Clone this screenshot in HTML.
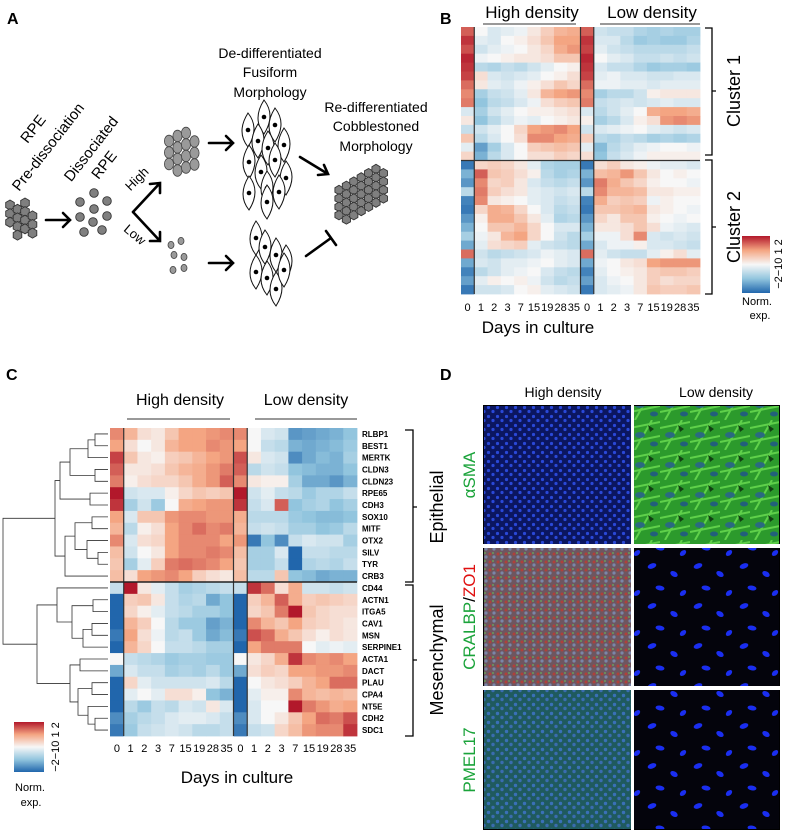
<!DOCTYPE html>
<html><head><meta charset="utf-8">
<style>
html,body{margin:0;padding:0;background:#fff;}
svg{display:block;font-family:"Liberation Sans",Arial,sans-serif;}
</style></head>
<body>
<svg id="fig" width="793" height="834" viewBox="0 0 793 834" xmlns="http://www.w3.org/2000/svg">
<defs>
<linearGradient id="cbar" x1="0" y1="1" x2="0" y2="0">
<stop offset="0" stop-color="#2166ac"/><stop offset="0.25" stop-color="#92c5de"/><stop offset="0.5" stop-color="#f7f7f7"/><stop offset="0.75" stop-color="#f4a582"/><stop offset="1" stop-color="#b2182b"/>
</linearGradient>
<pattern id="nucDense" width="9" height="9" patternUnits="userSpaceOnUse">
<rect width="9" height="9" fill="#0b1660"/><circle cx="2.5" cy="2.5" r="1.6" fill="#2a48d8"/><circle cx="7" cy="6.5" r="1.6" fill="#2a48d8"/>
</pattern>
<pattern id="nucTeal" width="9" height="9" patternUnits="userSpaceOnUse">
<rect width="9" height="9" fill="#1f5a5e"/><circle cx="2.5" cy="2.5" r="1.7" fill="#3a70b8"/><circle cx="7" cy="6.5" r="1.7" fill="#3a6cb0"/>
</pattern>
<pattern id="cral" width="8" height="8" patternUnits="userSpaceOnUse">
<rect width="8" height="8" fill="#6e5660"/><circle cx="2" cy="2" r="1.5" fill="#b0403a"/><circle cx="6" cy="5" r="1.6" fill="#7a86a8"/><circle cx="5" cy="1" r="1" fill="#6a9a5a"/>
</pattern>
<pattern id="sparse" width="46" height="40" patternUnits="userSpaceOnUse">
<rect width="46" height="40" fill="#04040c"/>
<ellipse cx="8" cy="6" rx="4.5" ry="2.5" fill="#1a2ef0" transform="rotate(-20 8 6)"/>
<ellipse cx="30" cy="14" rx="4" ry="2.6" fill="#1a2ef0" transform="rotate(30 30 14)"/>
<ellipse cx="16" cy="28" rx="4.5" ry="2.4" fill="#1a2ef0" transform="rotate(10 16 28)"/>
<ellipse cx="39" cy="33" rx="3.6" ry="2.4" fill="#1a2ef0" transform="rotate(-40 39 33)"/>
</pattern>
<pattern id="sma" width="30" height="30" patternUnits="userSpaceOnUse">
<rect width="30" height="30" fill="#2c9a2c"/>
<path d="M0 8 L30 2 M0 22 L30 16 M5 30 L22 0" stroke="#5fd04a" stroke-width="2"/>
<ellipse cx="10" cy="15" rx="5" ry="3" fill="#2a6a80"/><ellipse cx="24" cy="24" rx="4" ry="2.5" fill="#22607a"/>
<path d="M18 5 l6 4 l-4 3z" fill="#124012"/>
</pattern>
</defs>

<!-- ===== Panel A ===== -->
<g id="panelA">
<text x="7" y="24" font-size="16" font-weight="bold">A</text>
<g id="hexA"></g>
<text transform="translate(37,132) rotate(-52)" font-size="15" text-anchor="middle">RPE</text>
<text transform="translate(52,150) rotate(-52)" font-size="15" text-anchor="middle">Pre-dissociation</text>
<text transform="translate(95,152) rotate(-52)" font-size="15" text-anchor="middle">Dissociated</text>
<text transform="translate(108,168) rotate(-52)" font-size="15" text-anchor="middle">RPE</text>
<g stroke="#000" stroke-width="2.6" fill="none" stroke-linecap="round">
<path d="M46 220 L70 220 M63 213 L70 220 L63 227"/>
<path d="M133 212 L160 183 M150 184 L160 183 L160 193"/>
<path d="M133 212 L160 241 M150 241 L160 241 L160 232"/>
<path d="M209 143 L233 143 M226 136 L233 143 L226 150"/>
<path d="M209 263 L233 263 M226 256 L233 263 L226 270"/>
<path d="M300 157 L328 174 M318 175 L328 174 L324 165"/>
<path d="M306 256 L331 238 M326 231 L336 245"/>
</g>
<text transform="translate(140,182) rotate(-45)" font-size="13" text-anchor="middle">High</text>
<text transform="translate(132,238) rotate(40)" font-size="13" text-anchor="middle">Low</text>
<g id="dissA"></g>
<g id="highOval"></g>
<g id="lowOval"></g>
<g id="fusiform"></g>
<g font-size="14" text-anchor="middle">
<text x="270" y="58">De-differentiated</text>
<text x="270" y="77">Fusiform</text>
<text x="270" y="97">Morphology</text>
<text x="376" y="112">Re-differentiated</text>
<text x="376" y="131">Cobblestoned</text>
<text x="376" y="151">Morphology</text>
</g>
<g id="hexB"></g>
</g>

<!-- ===== Panel B ===== -->
<g id="panelB">
<text x="440" y="24" font-size="16" font-weight="bold">B</text>
<text x="532" y="18" font-size="17" text-anchor="middle">High density</text>
<line x1="483" y1="24" x2="576" y2="24" stroke="#333"/>
<text x="652" y="18" font-size="17" text-anchor="middle">Low density</text>
<line x1="600" y1="24" x2="700" y2="24" stroke="#333"/>
<g id="bCells"></g>
<g id="bTicks" font-size="11" text-anchor="middle"></g>
<text x="538" y="333" font-size="17" text-anchor="middle">Days in culture</text>
<path d="M705 28 L712 28 L712 155 L705 155 M712 91 L716 91" stroke="#000" fill="none" stroke-width="1.3"/>
<path d="M705 160 L712 160 L712 294 L705 294 M712 227 L716 227" stroke="#000" fill="none" stroke-width="1.3"/>
<text transform="translate(740,91) rotate(-90)" font-size="18" text-anchor="middle">Cluster 1</text>
<text transform="translate(740,227) rotate(-90)" font-size="18" text-anchor="middle">Cluster 2</text>
<rect x="742" y="236" width="28" height="57" fill="url(#cbar)"/>
<text transform="translate(782,264) rotate(-90)" font-size="11" text-anchor="middle">−2−10 1 2</text>
<text x="757" y="305" font-size="11" text-anchor="middle">Norm.</text>
<text x="760" y="319" font-size="11" text-anchor="middle">exp.</text>
</g>

<!-- ===== Panel C ===== -->
<g id="panelC">
<text x="6" y="380" font-size="16" font-weight="bold">C</text>
<text x="180" y="405" font-size="16" text-anchor="middle">High density</text>
<line x1="127" y1="419" x2="230" y2="419" stroke="#333"/>
<text x="306" y="405" font-size="16" text-anchor="middle">Low density</text>
<line x1="255" y1="419" x2="357" y2="419" stroke="#333"/>
<g id="cCells"></g>
<g id="cGenes" font-size="8" font-weight="bold"></g>
<g id="cTicks" font-size="11" text-anchor="middle"></g>
<g id="dendro" stroke="#333" fill="none" stroke-width="0.8"></g>
<text x="237" y="783" font-size="17" text-anchor="middle">Days in culture</text>
<path d="M405 430 L413 430 L413 582 L405 582 M413 507 L417 507" stroke="#000" fill="none" stroke-width="1.3"/>
<path d="M405 585 L413 585 L413 736 L405 736 M413 660 L417 660" stroke="#000" fill="none" stroke-width="1.3"/>
<text transform="translate(443,507) rotate(-90)" font-size="18" text-anchor="middle">Epithelial</text>
<text transform="translate(443,660) rotate(-90)" font-size="18" text-anchor="middle">Mesenchymal</text>
<rect x="14" y="722" width="30" height="50" fill="url(#cbar)"/>
<text transform="translate(59,747) rotate(-90)" font-size="11" text-anchor="middle">−2−10 1 2</text>
<text x="30" y="791" font-size="11" text-anchor="middle">Norm.</text>
<text x="31" y="806" font-size="11" text-anchor="middle">exp.</text>
</g>

<!-- ===== Panel D ===== -->
<g id="panelD">
<text x="440" y="380" font-size="16" font-weight="bold">D</text>
<text x="563" y="397" font-size="14" text-anchor="middle">High density</text>
<text x="716" y="397" font-size="14" text-anchor="middle">Low density</text>
<rect x="483" y="405" width="297" height="425" fill="#000"/>
<rect x="484" y="406" width="147" height="138" fill="url(#nucDense)"/>
<rect x="634" y="406" width="145" height="138" fill="url(#sma)"/>
<rect x="484" y="548" width="147" height="138" fill="url(#cral)"/>
<rect x="634" y="548" width="145" height="138" fill="url(#sparse)"/>
<rect x="484" y="690" width="147" height="139" fill="url(#nucTeal)"/>
<rect x="634" y="690" width="145" height="139" fill="url(#sparse)"/>
<rect x="631" y="405" width="3" height="425" fill="#fff"/>
<rect x="483" y="544" width="297" height="4" fill="#fff"/>
<rect x="483" y="686" width="297" height="4" fill="#fff"/>
<text transform="translate(475,475) rotate(-90)" font-size="17" fill="#1aa33a" text-anchor="middle">αSMA</text>
<text transform="translate(475,617) rotate(-90)" font-size="17" text-anchor="middle"><tspan fill="#1aa33a">CRALBP</tspan><tspan fill="#000">/</tspan><tspan fill="#e01010">ZO1</tspan></text>
<text transform="translate(475,760) rotate(-90)" font-size="17" fill="#1aa33a" text-anchor="middle">PMEL17</text>
</g>
</svg>

<script>
// ===== Panel C data =====
const cGenes = ["RLBP1","BEST1","MERTK","CLDN3","CLDN23","RPE65","CDH3","SOX10","MITF","OTX2","SILV","TYR","CRB3","CD44","ACTN1","ITGA5","CAV1","MSN","SERPINE1","ACTA1","DACT","PLAU","CPA4","NT5E","CDH2","SDC1"];
const cDays = ["0","1","2","3","7","15","19","28","35"];
const cHigh = [
[1.2,0.8,0.3,0.2,0.6,1,1,1.1,1.2],
[1,0.3,0,0.2,0.8,1,1,1.2,1.1],
[1.7,0.6,0.2,0.1,0.5,0.6,0.8,1,1.1],
[1.5,0.2,0.2,0.3,0.6,0.8,0.9,1.1,1.3],
[1.3,0.1,0.3,0.4,0.4,0.6,0.9,1.1,1.5],
[2,-0.4,-0.3,-0.3,0.1,0.4,0.6,0.5,0.6],
[1.8,-0.8,-0.4,-0.9,0,0.9,1,1.1,1.1],
[1,-0.3,0.6,0.6,1.1,1.2,1.2,1.1,1.1],
[0.8,-0.6,0.1,0.3,1,1.2,1.4,1.2,1.3],
[1.2,-0.3,0.3,0.4,1,1.2,1.2,1.2,1],
[0.7,-0.4,0,0.2,1,1.2,1.2,1.3,1.2],
[0.6,-0.8,-0.2,0.5,1.3,1.4,1.3,1.2,1],
[0.7,0.3,1,1.1,1.2,1,0.5,0.3,0.2],
[-0.5,2,0.2,-0.2,-0.5,-0.8,-0.7,-0.6,-0.5],
[-2,0.5,0.6,0.2,-0.5,-0.7,-0.6,-1.3,-1],
[-2,0.4,0.1,-0.2,-0.5,-0.6,-0.8,-0.8,-1],
[-2,0.8,0.5,0,-0.6,-0.9,-0.9,-1.4,-1.2],
[-1.8,1,0.3,-0.1,-0.6,-0.5,-0.9,-1.3,-1.1],
[-2,0.8,0.4,0,-0.5,-0.5,-0.6,-0.8,-0.8],
[0,-0.5,-0.6,-0.7,-0.9,-0.8,-0.8,-0.9,-0.9],
[-1.3,-0.3,-0.5,-0.5,-0.8,-0.7,-0.8,-0.6,-0.9],
[-2,0.4,-0.2,-0.4,-0.4,-0.4,-0.4,-0.3,-0.6],
[-2,-0.2,0,-0.2,0.3,0.3,0.1,-1,-1.2],
[-2,-0.6,-0.9,-0.5,-0.6,-0.3,-0.4,0.2,-0.3],
[-1.6,-0.8,-0.6,-0.5,-0.3,-0.2,-0.2,-0.3,-0.5],
[-1.8,-0.9,-0.5,-0.4,-0.3,-0.4,-0.6,-0.6,-0.5]];
const cLow = [
[1.2,0,-0.3,-0.4,-1.5,-1.4,-1.3,-1.2,-1],
[1,0,-0.5,-0.6,-1.2,-1.3,-1.2,-1.1,-0.9],
[1.6,0.2,-0.3,-0.4,-1.6,-1.3,-1.1,-1.2,-0.8],
[1.5,-0.6,-0.4,-0.5,-1,-1.1,-1.2,-1.2,-1],
[1.2,0.2,0.1,0.1,-0.8,-1.3,-1.3,-1.5,-1.2],
[2,-0.4,-0.2,-0.5,-0.6,-0.9,-0.7,-0.7,-0.5],
[1.8,-0.5,-0.3,1.5,-1,-0.8,-0.7,-1,-0.8],
[0.9,-0.6,-0.6,-0.6,-0.9,-1,-1.1,-1.1,-1],
[0.8,-0.5,-0.4,-0.5,-0.8,-0.8,-1,-0.9,-0.6],
[1.1,-1.8,-1,-1.6,-0.5,-0.3,-0.4,-0.4,-0.8],
[0.7,-0.8,-0.8,-0.3,-2,-0.5,-0.5,-0.6,-0.6],
[0.6,-0.8,-0.8,-0.5,-2,-0.7,-0.6,-0.7,-0.5],
[0.7,-0.6,-0.6,0.6,-1,-1.1,-1.3,-1.2,-1.2],
[-0.5,1.8,1.4,0.3,0.9,-0.4,-0.4,-0.5,-0.4],
[-2,0.5,0.8,1.5,0.9,0.5,0.6,0.5,0.4],
[-2,0.4,0.6,1.3,2,0.6,0.4,0.3,0.3],
[-2,1.2,0.8,0.6,1,0.5,0.4,0.3,0.2],
[-1.8,1.6,1.4,0.9,0.6,0.3,0.1,0.3,0.2],
[-2,1,1.3,1.3,1.3,0,-0.2,-0.1,-0.2],
[0,0.2,0.4,0.9,1.8,1.2,1.1,1.2,1],
[-1.3,0.3,0.5,0.4,1,1,1.1,1.1,1.2],
[-2,0,0.2,0.3,0.5,0.8,1,1.4,1.4],
[-2,-0.2,0.1,0.1,1.2,0.8,0.7,0.8,0.7],
[-2,-0.3,0,0,2,1.3,1.1,0.9,1],
[-1.6,-0.3,0,0.2,0.6,1,1.4,1.3,1.6],
[-1.8,-0.5,-0.4,0.4,0.7,1.1,1.2,1.2,1.8]];
// dendrogram merges: [childA, childB, height]; leaves 0..25, internal nodes 26+
const cMerges = [
[0,1,95],[3,4,95],[26,2,88],[28,27,70],[5,6,90],[29,30,60],[7,8,92],[10,11,98],[9,33,87],[32,34,75],[35,12,65],[31,36,55],
[16,17,92],[14,15,93],[38,18,83],[39,40,72],[13,41,57],[19,20,80],[21,22,92],[24,25,95],[23,45,88],[44,46,78],[43,47,70],[42,48,37],[37,49,3]];

// ===== Panel B data =====
const bDays = ["0","1","2","3","7","15","19","28","35"];
const bHigh = [
[1.5,0,-0.3,-0.2,-0.1,0.2,0.5,0.8,0.9],
[1.8,-0.2,-0.3,0,0.1,0.3,0.6,1,1],
[1.6,-0.4,-0.2,-0.1,0,0.2,0.4,0.9,1.1],
[1.9,-0.1,0,0.1,0.2,0.2,0.3,0.6,0.6],
[1.8,-0.6,-0.7,-0.5,-0.6,-0.4,-0.2,0,0.1],
[1.7,0.3,-0.3,-0.4,-0.3,-0.2,0,0.1,0.3],
[1.4,0.2,-0.2,-0.3,-0.1,0.1,0.3,0.6,0.4],
[1.2,-0.8,-0.5,-0.4,-0.2,0.2,0.8,1,1.1],
[1.3,-1,-0.6,-0.5,-0.3,-0.1,0.3,0.5,0.6],
[-0.3,-0.8,-0.4,-0.2,0,0.1,0.1,0.2,0.3],
[0.2,-1,-0.6,-0.3,-0.1,-0.2,0,0.1,0.2],
[-0.5,-0.4,-0.2,0,0.4,1,1.1,1.2,1],
[0.6,-0.6,-0.3,0,0.3,1.2,1.2,1,0.9],
[-0.2,-1.4,-0.8,-0.3,0,0.5,0.6,0.7,0.6],
[0.4,-1.2,-0.6,-0.3,0,0.3,0.3,0.5,0.4],
[-1.8,0.4,0.5,0.4,0.2,-0.2,-0.7,-0.8,-0.8],
[-1.2,1.5,0.6,0.5,0.3,0.1,-0.6,-0.8,-0.7],
[-1.5,1.2,0.4,0.5,0.2,-0.3,-0.5,-0.6,-0.5],
[-0.6,1.3,0.5,0.3,0.2,-0.2,-0.3,-0.4,-0.3],
[-1.7,1.2,0.2,0.1,0,-0.2,-0.3,-0.5,-0.4],
[-1.8,0.4,0.9,0.8,0.4,0,-0.3,-0.6,-0.5],
[-1.5,0.1,0.9,0.9,0.6,0.2,-0.2,-0.7,-0.6],
[-1.2,0,0.6,0.6,0.8,0.4,0,-0.3,-0.3],
[-0.8,-0.1,0.2,0.8,1,0.4,0,-0.4,-0.6],
[-1.3,-0.2,0.3,0.4,0.5,-0.2,-0.4,-0.5,-0.6],
[1.4,-0.4,-0.6,-0.5,-0.4,-0.3,-0.1,-0.2,-0.3],
[-1.3,-0.3,-0.4,-0.2,-0.2,-0.1,0,-0.2,-0.3],
[-1.7,-0.6,-0.4,-0.2,-0.1,0,-0.3,-0.5,-0.6],
[-1.4,-0.2,0.1,0,0.1,-0.1,-0.4,-0.6,-0.5],
[-1.8,-0.4,-0.4,-0.3,0,0.1,-0.2,-0.3,-0.4]];
const bLow = [
[1.5,-0.4,-0.5,-0.5,-0.7,-0.8,-0.7,-0.8,-0.8],
[1.8,-0.3,-0.3,-0.6,-0.9,-0.8,-0.9,-0.9,-0.7],
[1.7,-0.2,-0.4,-0.5,-0.6,-0.6,-0.6,-0.6,-0.5],
[1.9,0,-0.2,-0.3,-0.5,-0.5,-0.4,-0.5,-0.4],
[1.8,-0.3,-0.5,-0.5,-0.7,-0.9,-0.8,-0.8,-0.9],
[1.7,-0.2,-0.1,-0.3,-0.3,-0.4,-0.4,-0.3,-0.3],
[1.4,-0.1,-0.1,-0.2,-0.2,-0.3,-0.2,-0.2,-0.2],
[1.2,-0.8,-0.6,-0.6,-0.4,0.1,0.2,0.2,0.2],
[1.3,-0.5,-0.4,-0.3,-0.4,-0.3,-0.2,-0.3,-0.3],
[-0.3,-0.6,-0.4,-0.2,0,0.9,1,1,0.9],
[0.1,-0.8,-0.6,-0.3,0.1,0.3,1.1,1.2,1.1],
[-0.4,-0.3,-0.2,-0.1,0,-0.2,-0.3,-0.4,-0.3],
[0.5,-0.6,-0.7,-0.5,-0.6,-0.8,-0.7,-0.8,-0.7],
[-0.2,-1.1,-0.6,-0.4,-0.2,-0.1,0,0,-0.1],
[0.3,-1,-0.5,-0.3,-0.1,0.1,0.1,0.1,0.1],
[-1.8,0.3,0.5,0.2,0.1,-0.1,-0.2,-0.2,-0.3],
[-1.2,0.7,0.8,1.1,0.6,0.2,0,0.1,0],
[-1.5,1.3,0.9,0.6,0.4,0.1,0,0,-0.1],
[-0.6,1.2,0.8,0.8,0.7,0.2,0.2,0.1,0.1],
[-1.7,0.9,0.5,0.6,0.5,-0.1,0.1,0,0],
[-1.8,0.6,0.6,0.7,0.8,0.2,0.1,0,-0.1],
[-1.5,0.4,0.2,0.6,0.6,0.1,0,-0.1,0],
[-1.2,0.2,0.2,0.3,0.6,0.3,-0.1,-0.2,-0.3],
[-0.8,-0.1,-0.1,0.3,1.2,-0.3,-0.4,-0.3,-0.4],
[-1.3,-0.3,-0.1,-0.1,0.1,-0.3,-0.3,-0.4,-0.5],
[1.4,-0.2,-0.4,-0.5,-0.5,-0.2,0.1,0.3,-0.2],
[-1.3,-0.1,0,0.2,0.3,1,1.1,1.1,1.1],
[-1.7,-0.2,0,0.1,0.2,0.5,0.6,0.6,0.5],
[-1.4,-0.3,-0.1,0,0.2,0.5,0.3,0.4,0.4],
[-1.8,-0.3,-0.2,-0.1,0.2,0.6,0.5,0.5,0.6]];
const bClusterSplit = 15;

const NS = "http://www.w3.org/2000/svg";
function mk(tag, attrs, parent){ const e=document.createElementNS(NS,tag); for(const k in attrs) e.setAttribute(k,attrs[k]); parent.appendChild(e); return e; }
const stops=[[-2,[33,102,172]],[-1,[146,197,222]],[0,[247,247,247]],[1,[244,165,130]],[2,[178,24,43]]];
function color(v){ v=Math.max(-2,Math.min(2,v)); for(let i=0;i<stops.length-1;i++){ const a=stops[i],b=stops[i+1]; if(v<=b[0]){ const t=(v-a[0])/(b[0]-a[0]); const c=a[1].map((x,j)=>Math.round(x+(b[1][j]-x)*t)); return `rgb(${c})`; } } return "rgb(178,24,43)"; }

function heatmap(gid, high, low, x0, x1, y0, y1, days, tickY, prefix){
  const g=document.getElementById(gid);
  const nC=days.length*2, nR=high.length;
  const cw=(x1-x0)/nC, rh=(y1-y0)/nR;
  const xAt=c=>x0+c*cw, yAt=r=>y0+r*rh;
  for(let r=0;r<nR;r++){
    const row=high[r].concat(low[r]);
    row.forEach((v,c)=>{
      const e=mk("rect",{x:xAt(c).toFixed(2),y:yAt(r).toFixed(2),width:(cw+0.4).toFixed(2),height:(rh+0.4).toFixed(2),fill:color(v)},g);
      
      
    });
  }
  const tg=document.getElementById(prefix==="b"?"bTicks":"cTicks");
  days.concat(days).forEach((d,c)=>{
    const t=mk("text",{x:(xAt(c)+cw/2).toFixed(1),y:tickY},tg); t.textContent=d;
    
    
  });
  [1,days.length,days.length+1].forEach(c=>{
    const l=mk("line",{x1:xAt(c),x2:xAt(c),y1:y0,y2:y1,stroke:"#333","stroke-width":1.2},g);
    
    
  });
  return {xAt,yAt,rh,cw};
}
const B=heatmap("bCells",bHigh,bLow,461,700,27,294,bDays,311,"b");
const bl=mk("line",{x1:461,x2:700,y1:B.yAt(bClusterSplit),y2:B.yAt(bClusterSplit),stroke:"#333","stroke-width":1.2},document.getElementById("bCells"));



const C=heatmap("cCells",cHigh,cLow,110,357,428,736,cDays,752,"c");
const cl=mk("line",{x1:110,x2:357,y1:C.yAt(13),y2:C.yAt(13),stroke:"#222","stroke-width":1.4},document.getElementById("cCells"));


const gg=document.getElementById("cGenes");
cGenes.forEach((n,i)=>{
  const t=mk("text",{x:362,y:(C.yAt(i)+C.rh/2+3).toFixed(1)},gg); t.textContent=n;
  
  
});
// dendrogram
const dg=document.getElementById("dendro");
const nodeY={}, nodeX={};
cGenes.forEach((n,i)=>{ nodeY[i]=C.yAt(i)+C.rh/2; nodeX[i]=108; });
cMerges.forEach((m,k)=>{
  const id=cGenes.length+k, a=m[0], b=m[1], h=m[2];
  const p=mk("path",{d:`M${nodeX[a]} ${nodeY[a]} H${h} V${nodeY[b]} H${nodeX[b]}`},dg);
  
  
  nodeY[id]=(nodeY[a]+nodeY[b])/2; nodeX[id]=h;
});

// ===== Panel A shapes =====
function hex(cx,cy,r,g){ let d=""; for(let i=0;i<6;i++){ const a=Math.PI/3*i+Math.PI/6; d+=(i?"L":"M")+(cx+r*Math.cos(a)).toFixed(1)+" "+(cy+r*Math.sin(a)).toFixed(1);} const e=mk("path",{d:d+"Z",fill:"#7f7f7f",stroke:"#333","stroke-width":0.9},g);   }
const hA=document.getElementById("hexA");
for(let c=0;c<4;c++) for(let r=0;r<4;r++){ if((c===0&&r===3)||(c===3&&r===0)) continue; hex(10+c*7.5, 205+r*8.6+(c%2)*4.3-(c>1?2:0), 5, hA); }
const hB=document.getElementById("hexB");
for(let c=0;c<7;c++) for(let r=0;r<5;r++){
  if((c===0&&r===4)||(c===6&&r===0)) continue;
  hex(339+c*7.4, 190-c*4.2+r*8.4, 4.7, hB);
}
const dA=document.getElementById("dissA");
[[80,202],[94,193],[107,201],[80,217],[94,209],[107,216],[84,232],[93,222],[102,230]].forEach(p=>{ const e=mk("circle",{cx:p[0],cy:p[1],r:4.3,fill:"#808080",stroke:"#333","stroke-width":0.9},dA);   });
const ho=document.getElementById("highOval");
for(let c=0;c<4;c++) for(let r=0;r<4;r++){ if((c===0&&r===3)||(c===3&&r===0)) continue; const e=mk("ellipse",{cx:169+c*8.5,cy:139+r*11.5-c*3+ (c===0?2:0),rx:4.6,ry:5.8,fill:"#9a9a9a",stroke:"#444","stroke-width":0.8},ho);   }
const lo=document.getElementById("lowOval");
[[171,245],[181,241],[174,255],[184,257],[173,270],[184,268]].forEach(p=>{ const e=mk("ellipse",{cx:p[0],cy:p[1],rx:3,ry:3.6,fill:"#9a9a9a",stroke:"#444","stroke-width":0.8},lo);   });
const fu=document.getElementById("fusiform");
function cell(x,y){ const e=mk("path",{d:`M${x} ${y-17} Q${x+12} ${y-2} ${x} ${y+17} Q${x-12} ${y+2} ${x} ${y-17}Z`,fill:"#fff",stroke:"#111","stroke-width":1},fu);   const d=mk("circle",{cx:x,cy:y,r:2.3,fill:"#000"},fu);   }
[[264,117],[275,125],[248,130],[258,141],[268,148],[284,145],[249,162],[261,172],[275,160],[286,178],[249,193],[267,188],[279,192],[267,202]].forEach(p=>cell(p[0],p[1]));
[[256,238],[265,247],[276,255],[286,262],[256,272],[267,278],[276,289],[284,270]].forEach(p=>cell(p[0],p[1]));
</script>
</body></html>
